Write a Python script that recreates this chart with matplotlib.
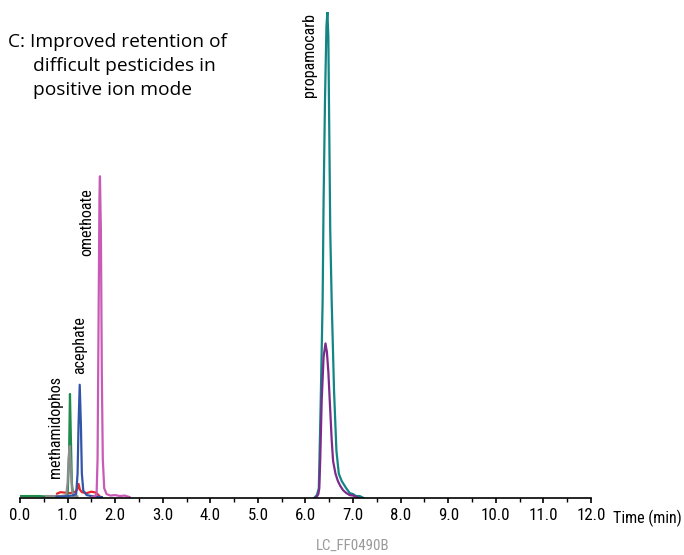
import matplotlib
matplotlib.use("Agg")
import matplotlib.pyplot as plt
from matplotlib import font_manager
from matplotlib.ticker import MultipleLocator

# chromatogram traces, time (min) vs relative intensity (%)
teal_t = [6.18, 6.24, 6.28, 6.32, 6.36, 6.38, 6.41, 6.44, 6.46, 6.48, 6.50, 6.52,
          6.55, 6.60, 6.65, 6.70, 6.76, 6.85, 6.93, 7.00, 7.06, 7.14, 7.22]
teal_y = [0, 0.6, 2, 20, 40.6, 61, 82, 97, 100, 95, 75, 55,
          40.6, 22, 9.7, 5, 3.5, 2.1, 1.0, 0.8, 0.4, 0.4, 0]

purple_t = [6.22, 6.27, 6.29, 6.31, 6.34, 6.38, 6.42, 6.45, 6.48, 6.51, 6.55,
            6.58, 6.63, 6.68, 6.73, 6.79, 6.86, 6.93, 7.00, 7.06, 7.12]
purple_y = [0, 0.8, 2, 8, 20, 29, 31.8, 30, 26, 20, 12,
            7.6, 5, 3.5, 2.5, 1.6, 1.0, 0.6, 0.5, 0.3, 0]

pink_t = [1.52, 1.58, 1.61, 1.63, 1.65, 1.67, 1.68, 1.70, 1.72, 1.74, 1.77,
          1.82, 1.90, 2.00, 2.10, 2.20, 2.30]
pink_y = [0.2, 0.4, 1, 8, 35, 62, 66.2, 55, 25, 8, 2,
          0.8, 0.5, 0.6, 0.4, 0.5, 0.2]

blue_t = [0.77, 0.90, 1.00, 1.10, 1.18, 1.21, 1.23, 1.255, 1.28, 1.30, 1.33,
          1.40, 1.50, 1.60, 1.72]
blue_y = [0.3, 0.3, 0.4, 0.5, 0.8, 5, 15, 23.3, 15, 5, 1.5,
          0.6, 0.4, 0.3, 0.2]

green_t = [0.0, 0.2, 0.4, 0.57, 0.8, 1.00, 1.03, 1.05, 1.07, 1.09, 1.12, 1.20]
green_y = [0.4, 0.4, 0.4, 0.3, 0.3, 0.5, 8, 21.4, 12, 3, 0.5, 0.3]

grey_t = [0.55, 0.70, 0.85, 0.97, 1.00, 1.02, 1.045, 1.07, 1.09, 1.12, 1.20]
grey_y = [0.4, 0.4, 0.4, 0.5, 3, 8, 10.7, 6, 2, 0.5, 0.3]

red_t = [0.78, 0.85, 0.95, 1.05, 1.15, 1.20, 1.23, 1.26, 1.30, 1.40, 1.50, 1.60, 1.66]
red_y = [0.9, 1.2, 1.1, 1.0, 1.2, 1.7, 2.9, 1.7, 1.2, 1.0, 1.3, 1.1, 0.5]

# peak labels: name, time, height of label bottom
peak_names = ["methamidophos", "acephate", "omethoate", "propamocarb"]
peak_x = [0.74, 1.26, 1.41, 6.09]
peak_y = [4.1, 25.5, 49.7, 82.5]

tick_vals = [i * 1.0 for i in range(13)]
tick_labels = ["%.1f" % v for v in tick_vals]


# look for a condensed face, otherwise use a narrow-ish regular one
def pick_narrow():
    for fam in ["Liberation Sans Narrow", "Noto Sans Condensed", "Roboto Condensed",
                "DejaVu Sans Condensed", "Open Sans Condensed"]:
        try:
            font_manager.findfont(font_manager.FontProperties(family=fam),
                                  fallback_to_default=False)
            return {"family": [fam, "DejaVu Sans"]}, 11.5
        except Exception:
            pass
    for fam in ["Noto Sans", "DejaVu Sans", "Open Sans"]:
        for f in font_manager.fontManager.ttflist:
            if f.name == fam and f.stretch in ("condensed", "semi-condensed") \
                    and f.style == "normal" and f.weight in (400, "normal"):
                return {"family": [fam, "DejaVu Sans"], "fontstretch": f.stretch}, 11.5
    return {"family": ["Roboto", "DejaVu Sans"]}, 10.5


narrow, nsize = pick_narrow()
lw = 1.6

fig = plt.figure(figsize=(6.84, 5.55), dpi=100)
ax = fig.add_axes([20 / 684, (555 - 498) / 555, (591 - 20) / 684, (498 - 12) / 555])

ax.plot(red_t, red_y, color="#e8262c", lw=lw)
ax.plot(green_t, green_y, color="#1f8a4c", lw=lw)
ax.plot(grey_t, grey_y, color="#8c8c8c", lw=lw)
ax.plot(blue_t, blue_y, color="#3355a8", lw=lw)
ax.plot(pink_t, pink_y, color="#c95bb6", lw=lw)
ax.plot(teal_t, teal_y, color="#138585", lw=lw)
ax.plot(purple_t, purple_y, color="#7d2a8c", lw=lw)

for name, x, y in zip(peak_names, peak_x, peak_y):
    ax.text(x, y, name, rotation=90, ha="center", va="bottom",
            fontsize=nsize, **narrow)

ax.set_xlim(0, 12)
ax.set_ylim(0, 100)
for s in ["top", "right", "left"]:
    ax.spines[s].set_visible(False)
ax.spines["bottom"].set_linewidth(1.2)
ax.set_yticks([])
ax.set_xticks(tick_vals)
ax.set_xticklabels(tick_labels, fontsize=nsize + 0.7, **narrow)
ax.xaxis.set_minor_locator(MultipleLocator(0.5))
ax.tick_params(axis="x", which="major", direction="out", length=3.8, width=1.2, pad=3.5)
ax.tick_params(axis="x", which="minor", direction="out", length=2.6, width=1.0)
ax.patch.set_alpha(0)

fig.text(613 / 684, (555 - 523) / 555, "Time (min)", fontsize=nsize,
         va="baseline", ha="left", **narrow)

title_font = ["Open Sans", "DejaVu Sans"]
fig.text(8 / 684, (555 - 47) / 555, "C: Improved retention of", family=title_font,
         fontsize=13.8, va="baseline", ha="left")
fig.text(33 / 684, (555 - 71) / 555, "difficult pesticides in", family=title_font,
         fontsize=13.8, va="baseline", ha="left")
fig.text(33 / 684, (555 - 95) / 555, "positive ion mode", family=title_font,
         fontsize=13.8, va="baseline", ha="left")

fig.text(353 / 684, (555 - 550) / 555, "LC_FF0490B", fontsize=10.8,
         color="#9a9a9a", va="baseline", ha="center", **narrow)

fig.savefig("out.png", dpi=100)
